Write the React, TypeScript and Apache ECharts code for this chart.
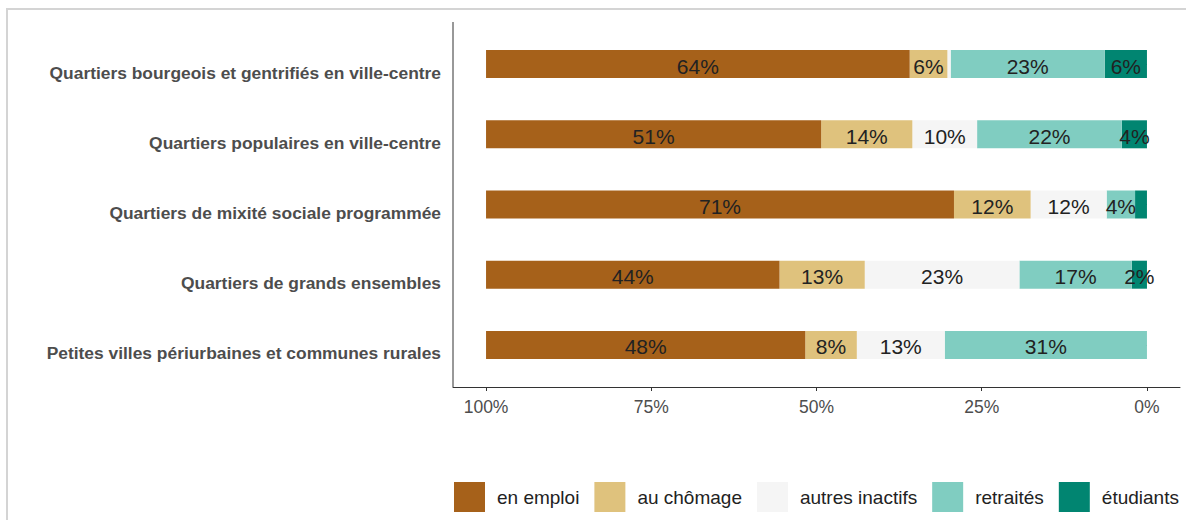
import React, { useEffect, useRef } from "react";
import * as echarts from "echarts";

const categories = [
  "Quartiers bourgeois et gentrifiés en ville-centre",
  "Quartiers populaires en ville-centre",
  "Quartiers de mixité sociale programmée",
  "Quartiers de grands ensembles",
  "Petites villes périurbaines et communes rurales",
];
const enEmploi = [64.1, 50.7, 70.8, 44.4, 48.3];
const auChomage = [5.7, 13.8, 11.6, 12.9, 7.8];
const autresInactifs = [0.5, 9.8, 11.5, 23.4, 13.3];
const retraites = [23.3, 21.9, 4.3, 17.0, 30.6];
const etudiants = [6.4, 3.8, 1.8, 2.3, 0];
const xTicks = [0, 25, 50, 75, 100];

const FONT = "'Liberation Sans', Arial, sans-serif";

export default function App() {
  const ref = useRef<HTMLDivElement>(null);
  useEffect(() => {
    if (!ref.current) return;
    const chart = echarts.init(ref.current, null, { renderer: "svg" });
    const mk = (name: string, data: number[], color: string) => ({
      name,
      type: "bar",
      stack: "total",
      data,
      barWidth: 28,
      itemStyle: { color },
      label: {
        show: true,
        position: "inside",
        offset: [0, 2],
        fontFamily: FONT,
        fontSize: 21,
        color: "#222",
        formatter: (p: any) => (p.value >= 2 ? Math.round(p.value) + "%" : ""),
      },
    });
    chart.setOption({
      animation: false,
      textStyle: { fontFamily: FONT },
      grid: { left: 453, right: 6, top: 29, bottom: 140, containLabel: false },
      legend: {
        data: ["en emploi", "au chômage", "autres inactifs", "retraités", "étudiants"],
        left: 454,
        top: 482,
        padding: 0,
        icon: "rect",
        itemWidth: 31,
        itemHeight: 30,
        itemGap: 15,
        textStyle: { fontFamily: FONT, fontSize: 19, color: "#222", padding: [0, 0, 0, 7] },
      },
      xAxis: {
        type: "value",
        min: -5,
        max: 105,
        inverse: true,
        offset: 7,
        splitLine: { show: false },
        axisLine: { show: true, lineStyle: { color: "#333", width: 1 } },
        axisTick: { show: true, length: 4, customValues: xTicks, lineStyle: { color: "#333" } },
        axisLabel: {
          customValues: xTicks,
          formatter: (v: number) => v + "%",
          fontFamily: FONT,
          fontSize: 17.5,
          color: "#4d4d4d",
          margin: 11,
        },
      },
      yAxis: {
        type: "category",
        data: categories,
        inverse: true,
        axisLine: { show: false },
        axisTick: { show: true, alignWithLabel: true, length: 4, lineStyle: { color: "#333" } },
        axisLabel: {
          fontFamily: FONT,
          fontSize: 17.4,
          fontWeight: "bold",
          color: "#4d4d4d",
          margin: 12,
          verticalAlign: "top",
        },
      },
      graphic: [
        {
          type: "rect",
          shape: { x: 7, y: 9, width: 1300, height: 700 },
          style: { fill: "none", stroke: "#d4d4d4", lineWidth: 2 },
          silent: true,
        },
        {
          type: "line",
          shape: { x1: 453, y1: 22, x2: 453, y2: 387 },
          style: { stroke: "#333", lineWidth: 1 },
          silent: true,
        },
      ],
      series: [
        mk("étudiants", etudiants, "#018571"),
        mk("retraités", retraites, "#80cdc1"),
        mk("autres inactifs", autresInactifs, "#f5f5f5"),
        mk("au chômage", auChomage, "#dfc27d"),
        mk("en emploi", enEmploi, "#a6611a"),
      ],
    });
    return () => chart.dispose();
  }, []);
  return (
    <div
      ref={ref}
      style={{ position: "fixed", left: 0, top: 0, width: 1186, height: 520, background: "#fff" }}
    />
  );
}
